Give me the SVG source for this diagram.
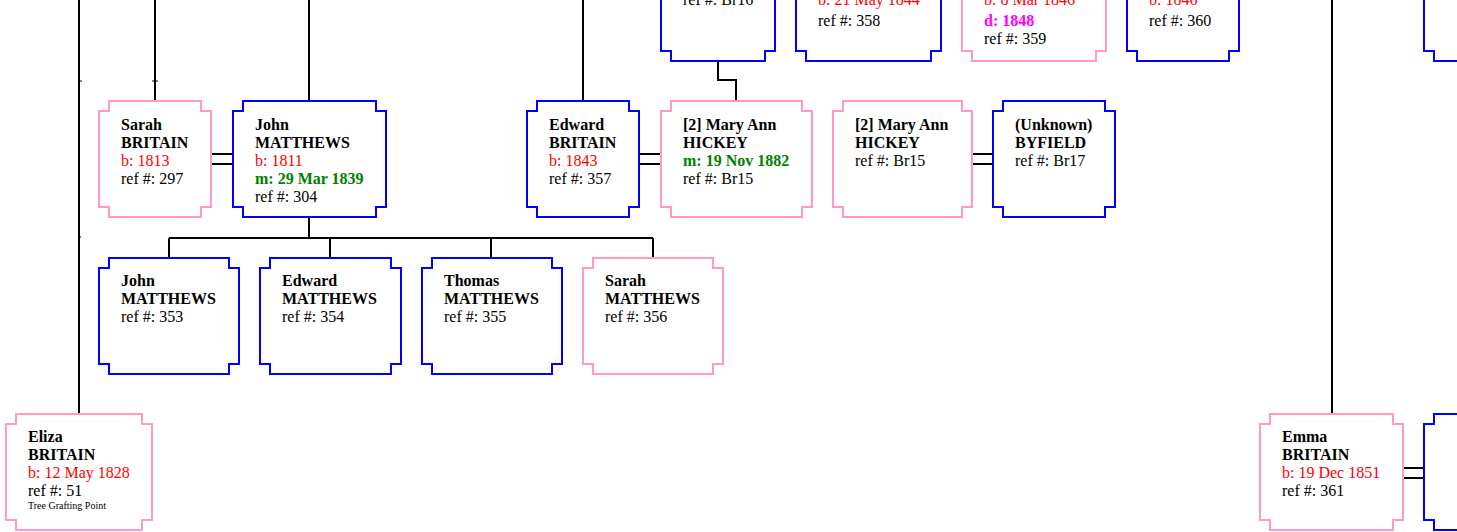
<svg xmlns="http://www.w3.org/2000/svg" width="1457" height="532" viewBox="0 0 1457 532">
<style>
.box{fill:#fff;stroke-width:2}
.m{stroke:#0000ff}
.f{stroke:#ff99c8}
text{font-family:"Liberation Serif","Times New Roman",serif;font-size:16px;fill:#000}
.n{font-weight:bold}
.b{fill:#ff0000}
.mr{fill:#008000;font-weight:bold}
.d{fill:#ff00ff;font-weight:bold}
.s{font-size:10px}
.ln{stroke:#000;stroke-width:2;fill:none}
</style>
<rect width="1457" height="532" fill="#fff"/>
<g id="connectors" class="ln">
<path d="M79,0V414"/>
<path d="M155,0V101"/>
<path d="M309,0V101"/>
<path d="M583,0V101"/>
<path d="M1332,0V414"/>
<path d="M718,61V80H736V101"/>
<path d="M309,217V238M169,238H653M169,238V258M330,238V258M491,238V258M653,238V258"/>
<path d="M211,154H233M211,164H233"/>
<path d="M639,154H661M639,164H661"/>
<path d="M972,154H993M972,164H993"/>
<path d="M1403,468H1424M1403,478H1424"/>
<path d="M79,81H82M152,81H158M78,237H81" stroke-width="1"/>
</g>
<g id="n_top1"><path class="box m" d="M661,-10V51H671V61H765V51H775V-10"/><text x="683" y="5">ref #: Br16</text></g>
<g id="n_top2"><path class="box m" d="M796,-10V51H806V61H931V51H941V-10"/><text x="818" y="5" class="b">b: 21 May 1844</text><text x="818" y="26">ref #: 358</text></g>
<g id="n_top3"><path class="box f" d="M962,-10V51H972V61H1096V51H1106V-10"/><text x="984" y="5" class="b">b: 8 Mar 1846</text><text x="984" y="26" class="d">d: 1848</text><text x="984" y="44">ref #: 359</text></g>
<g id="n_top4"><path class="box m" d="M1127,-10V51H1137V61H1229V51H1239V-10"/><text x="1149" y="5" class="b">b: 1846</text><text x="1149" y="26">ref #: 360</text></g>
<g id="n_top5"><path class="box m" d="M1424,-10V51H1434V61H1470"/></g>
<g id="n297"><path class="box f" d="M109,101H201V111H211V207H201V217H109V207H99V111H109Z"/><text x="121" y="130" class="n">Sarah</text><text x="121" y="148" class="n">BRITAIN</text><text x="121" y="166" class="b">b: 1813</text><text x="121" y="184">ref #: 297</text></g>
<g id="n304"><path class="box m" d="M243,101H376V111H386V207H376V217H243V207H233V111H243Z"/><text x="255" y="130" class="n">John</text><text x="255" y="148" class="n">MATTHEWS</text><text x="255" y="166" class="b">b: 1811</text><text x="255" y="184" class="mr">m: 29 Mar 1839</text><text x="255" y="202">ref #: 304</text></g>
<g id="n357"><path class="box m" d="M537,101H629V111H639V207H629V217H537V207H527V111H537Z"/><text x="549" y="130" class="n">Edward</text><text x="549" y="148" class="n">BRITAIN</text><text x="549" y="166" class="b">b: 1843</text><text x="549" y="184">ref #: 357</text></g>
<g id="nBr15a"><path class="box f" d="M671,101H802V111H812V207H802V217H671V207H661V111H671Z"/><text x="683" y="130" class="n">[2] Mary Ann</text><text x="683" y="148" class="n">HICKEY</text><text x="683" y="166" class="mr">m: 19 Nov 1882</text><text x="683" y="184">ref #: Br15</text></g>
<g id="nBr15b"><path class="box f" d="M843,101H962V111H972V207H962V217H843V207H833V111H843Z"/><text x="855" y="130" class="n">[2] Mary Ann</text><text x="855" y="148" class="n">HICKEY</text><text x="855" y="166">ref #: Br15</text></g>
<g id="nBr17"><path class="box m" d="M1003,101H1105V111H1115V207H1105V217H1003V207H993V111H1003Z"/><text x="1015" y="130" class="n">(Unknown)</text><text x="1015" y="148" class="n">BYFIELD</text><text x="1015" y="166">ref #: Br17</text></g>
<g id="n353"><path class="box m" d="M109,258H229V268H239V364H229V374H109V364H99V268H109Z"/><text x="121" y="286" class="n">John</text><text x="121" y="304" class="n">MATTHEWS</text><text x="121" y="322">ref #: 353</text></g>
<g id="n354"><path class="box m" d="M270,258H391V268H401V364H391V374H270V364H260V268H270Z"/><text x="282" y="286" class="n">Edward</text><text x="282" y="304" class="n">MATTHEWS</text><text x="282" y="322">ref #: 354</text></g>
<g id="n355"><path class="box m" d="M432,258H552V268H562V364H552V374H432V364H422V268H432Z"/><text x="444" y="286" class="n">Thomas</text><text x="444" y="304" class="n">MATTHEWS</text><text x="444" y="322">ref #: 355</text></g>
<g id="n356"><path class="box f" d="M593,258H713V268H723V364H713V374H593V364H583V268H593Z"/><text x="605" y="286" class="n">Sarah</text><text x="605" y="304" class="n">MATTHEWS</text><text x="605" y="322">ref #: 356</text></g>
<g id="n51"><path class="box f" d="M16,414H142V424H152V520H142V530H16V520H6V424H16Z"/><text x="28" y="442" class="n">Eliza</text><text x="28" y="460" class="n">BRITAIN</text><text x="28" y="478" class="b">b: 12 May 1828</text><text x="28" y="496">ref #: 51</text><text x="28" y="509" class="s">Tree Grafting Point</text></g>
<g id="n361"><path class="box f" d="M1270,414H1393V424H1403V520H1393V530H1270V520H1260V424H1270Z"/><text x="1282" y="442" class="n">Emma</text><text x="1282" y="460" class="n">BRITAIN</text><text x="1282" y="478" class="b">b: 19 Dec 1851</text><text x="1282" y="496">ref #: 361</text></g>
<g id="n_partner"><path class="box m" d="M1470,414H1434V424H1424V520H1434V530H1470"/></g>
</svg>
